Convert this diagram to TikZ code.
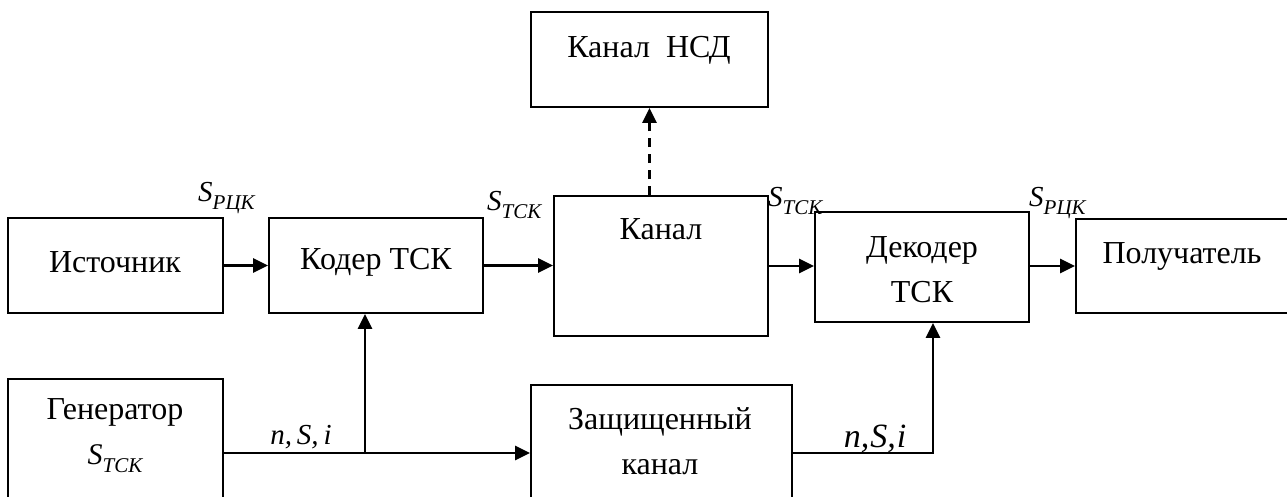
\documentclass[tikz,border=0pt]{standalone}
\usepackage{fontspec}
\setmainfont{Liberation Serif}
\usetikzlibrary{arrows.meta}
\begin{document}
\begin{tikzpicture}[x=1pt,y=-1pt,
  box/.style={draw, line width=1.8pt, inner sep=0pt},
  txt/.style={font=\fontsize{32}{45}\selectfont, inner sep=0pt, align=center},
  lbl/.style={font=\fontsize{29}{29}\selectfont\itshape, inner sep=0pt, anchor=base west},
  sub/.style={},
  nsi/.style={font=\fontsize{29}{29}\selectfont\itshape, inner sep=0pt, anchor=base},
  conn/.style={line width=2.8pt, line join=miter, -{Triangle[length=15pt,width=14pt]}},
  dashconn/.style={line width=2.5pt, dash pattern=on 9pt off 7pt, -{Triangle[length=15pt,width=14pt]}}]
\useasboundingbox (0,0) rectangle (1287,497);
\clip (0,0) rectangle (1287,497);
% boxes
\node[box, minimum width=215pt, minimum height=95pt]  (src) at (115.5,265.5) {};
\node[box, minimum width=214pt, minimum height=95pt]  (cod) at (376,265.5) {};
\node[box, minimum width=214pt, minimum height=140pt] (chn) at (661,266) {};
\node[box, minimum width=237pt, minimum height=95pt]  (nsd) at (649.5,59.5) {};
\node[box, minimum width=214pt, minimum height=110pt] (dec) at (922,267) {};
\node[box, minimum width=224pt, minimum height=94pt]  (rcv) at (1188,266) {};
\node[box, minimum width=215pt, minimum height=141pt] (gen) at (115.5,449.5) {};
\node[box, minimum width=261pt, minimum height=135pt] (sec) at (661.5,452.5) {};
% texts
\node[txt] (srcT) at (115,262) {Источник};
\node[txt] (codT) at (376,262) {Кодер ТСК};
\node[txt] (chnT) at (661,229) {Канал};
\node[txt] (nsdT) at (649,50) {Канал\ \ НСД};
\node[txt] (decT) at (922,270) {Декодер\\ТСК};
\node[txt] (rcvT) at (1182,256) {Получатель};
\node[txt] (genT) at (115,436) {Генератор\\{\fontsize{30}{30}\selectfont\itshape S\raisebox{-8pt}{\fontsize{21}{21}\selectfont ТСК}}};
\node[txt] (secT) at (660,441) {Защищенный\\канал};
% signal labels
\node[lbl] (l1) at (198,202) {S\raisebox{-8pt}{\fontsize{21}{21}\selectfont РЦК}};
\node[lbl] (l2) at (487,211) {S\raisebox{-8pt}{\fontsize{21}{21}\selectfont ТСК}};
\node[lbl] (l3) at (768,207) {S\raisebox{-8pt}{\fontsize{21}{21}\selectfont ТСК}};
\node[lbl] (l4) at (1029,207) {S\raisebox{-8pt}{\fontsize{21}{21}\selectfont РЦК}};
\node[nsi] (n1) at (301,444) {n,\,S,\,i};
\node[nsi, font=\fontsize{34}{34}\selectfont\itshape] (n2) at (875,447) {n,\kern1ptS,\kern1pti};
% connectors
\coordinate (j1) at (365,453);
\coordinate (j2) at (933,453);
\draw[conn] (src) -- (cod);
\draw[conn] (cod.east) -- (cod.east -| chn.west);
\draw[conn] (chn.east) -- (chn.east -| dec.west);
\draw[conn] (dec.east |- rcv.west) -- (rcv.west);
\draw[dashconn] (chn.north -| nsd.south) -- (nsd.south);
\draw[conn] (gen.east |- j1) -- (sec.west |- j1);
\draw[conn] (j1) -- (j1 |- cod.south);
\draw[conn] (sec.east |- j2) -- (j2) -- (j2 |- dec.south);
\end{tikzpicture}
\end{document}
